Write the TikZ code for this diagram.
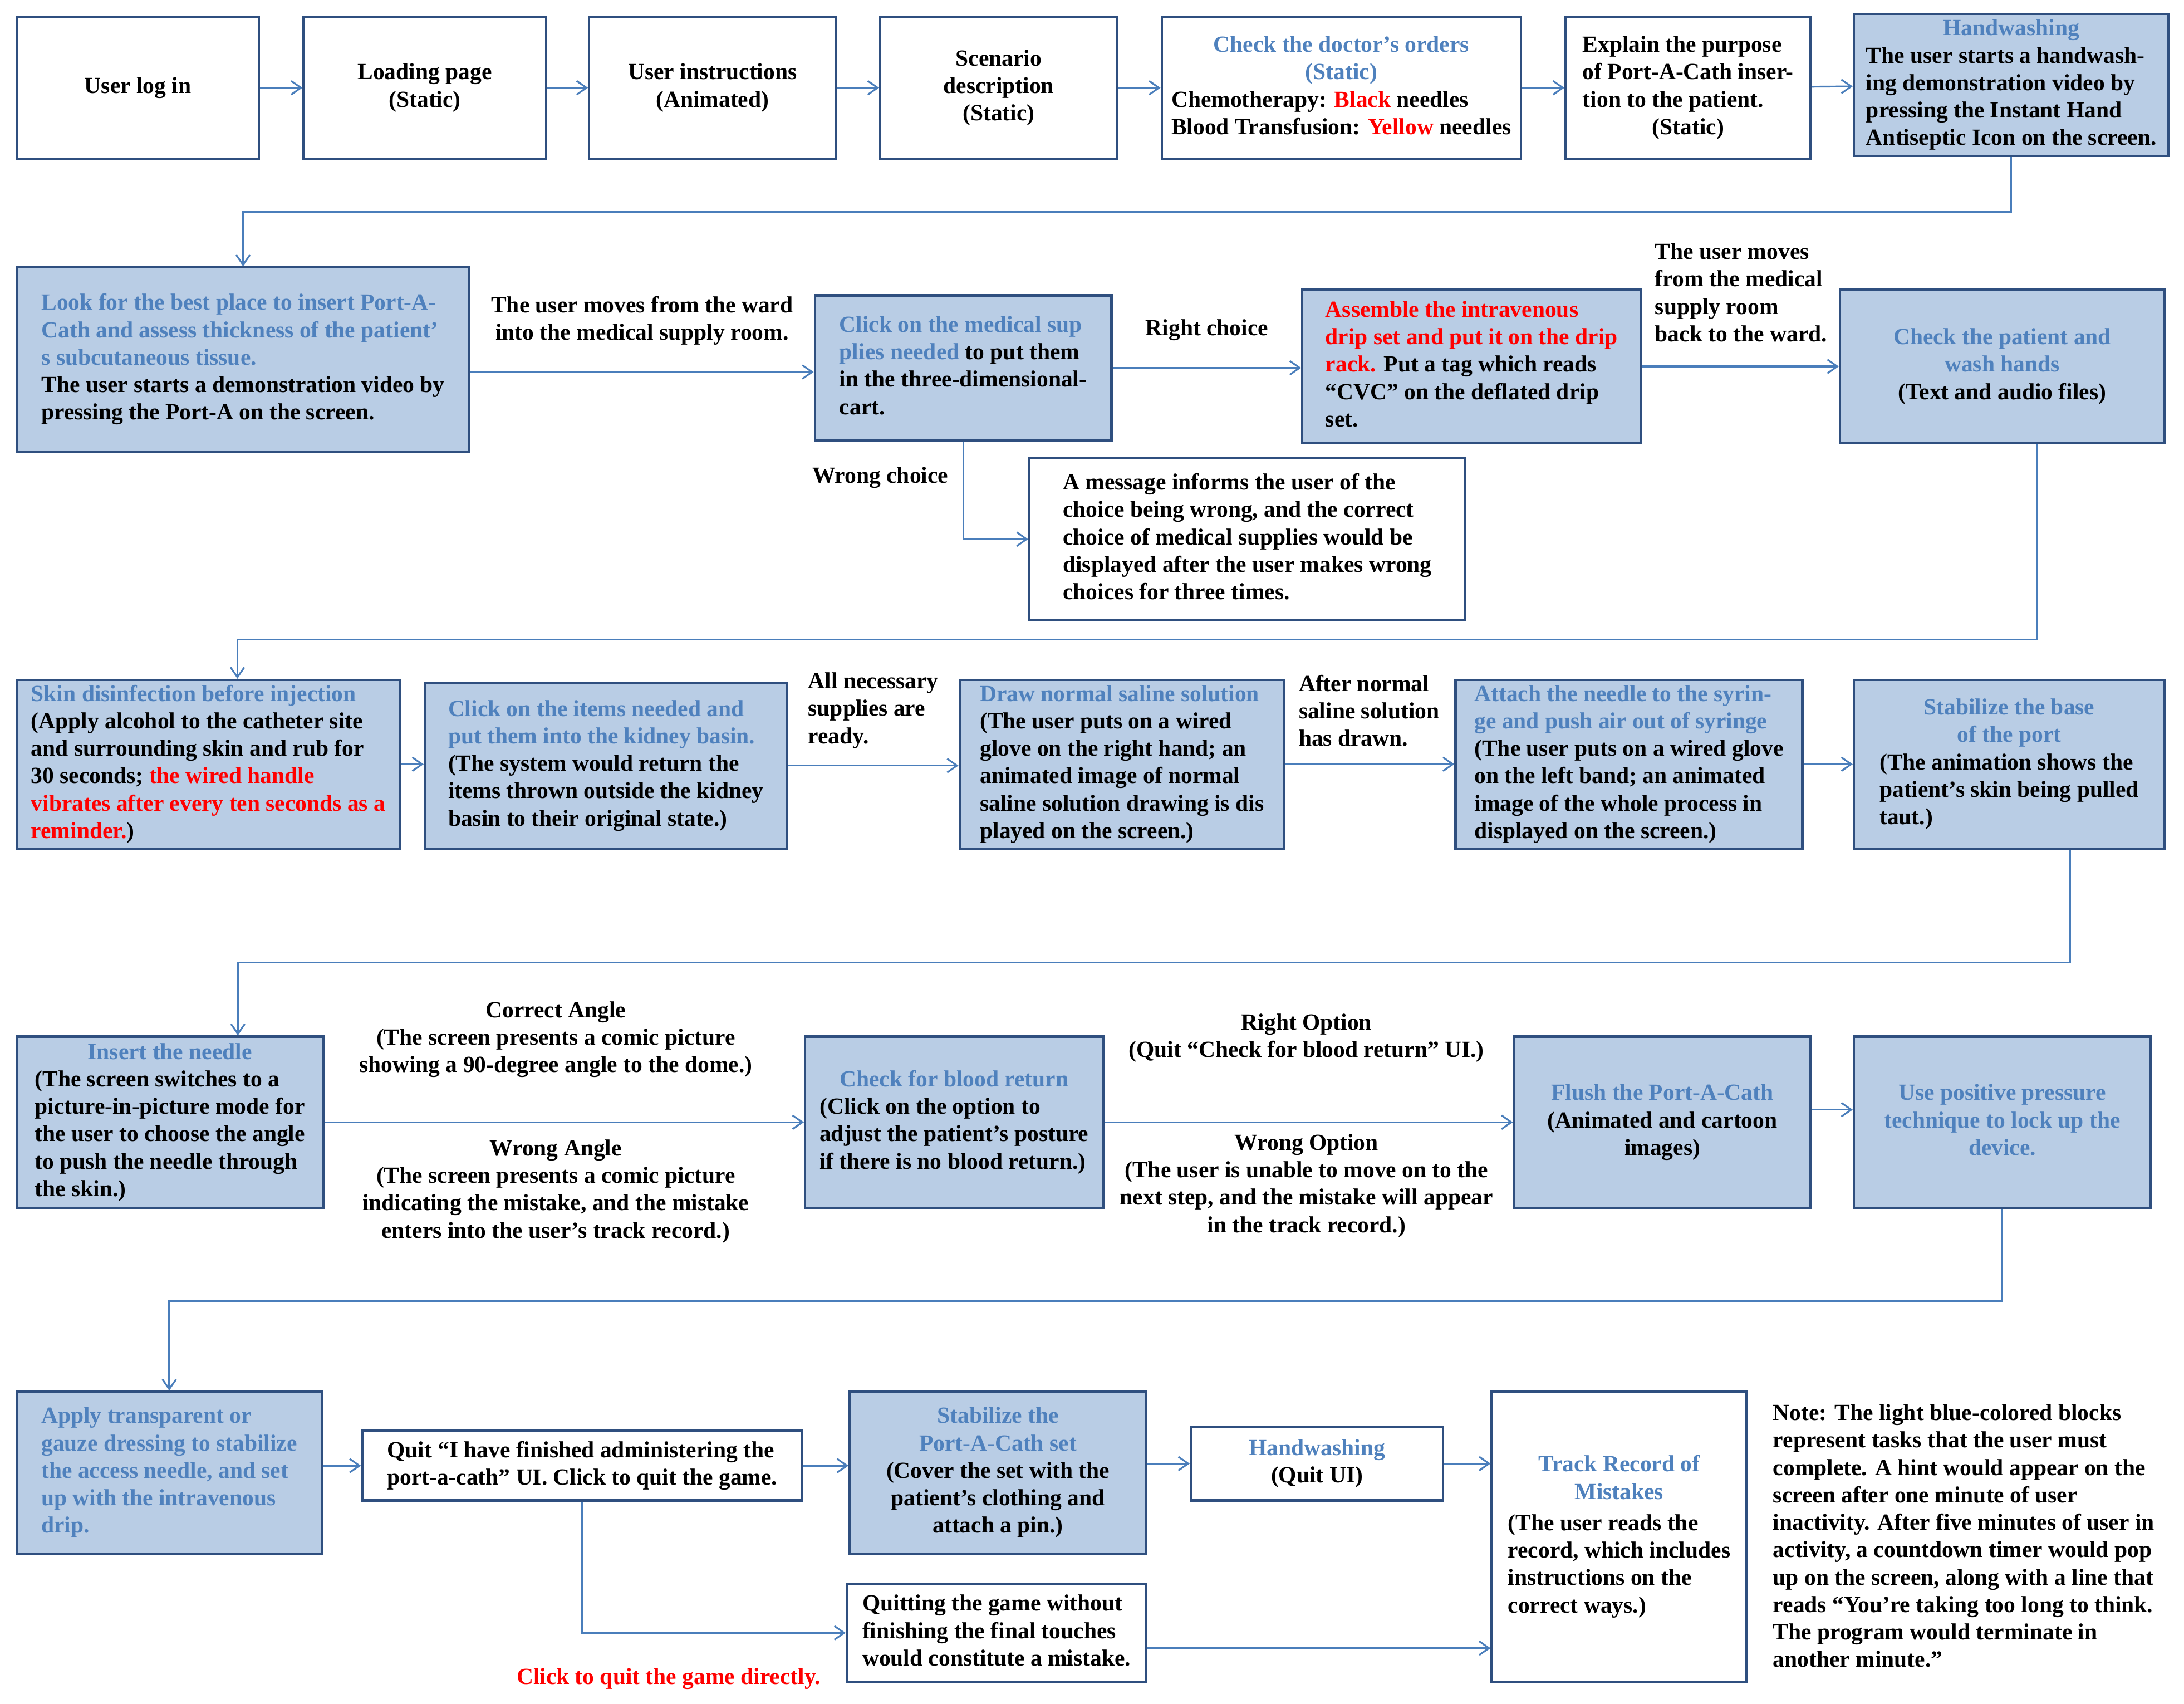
\documentclass[tikz,border=0pt]{standalone}
\usepackage{fontspec}
\setmainfont{Liberation Serif}
\usetikzlibrary{arrows.meta,fit}
\definecolor{boxfill}{HTML}{B9CDE5}
\definecolor{boxline}{HTML}{2F4F7F}
\definecolor{headblue}{HTML}{4F81BD}
\definecolor{arrowblue}{HTML}{4A7EBB}
\newcommand{\hd}[1]{\textcolor{headblue}{#1}}
\newcommand{\rd}[1]{\textcolor{red}{#1}}
\newcommand{\lb}[1]{\begin{tabular}{@{}l@{}}#1\end{tabular}}
\newcommand{\cb}[1]{\begin{tabular}{@{}c@{}}#1\end{tabular}}
\begin{document}
\begin{tikzpicture}[x=0.025cm, y=-0.025cm,
    every node/.style={font=\bfseries\fontsize{11.8}{14}\selectfont},
    wbox/.style={draw=boxline, line width=1.2pt, inner sep=0pt},
    fbox/.style={wbox, fill=boxfill},
    arrow/.style={-{Straight Barb[length=5pt,width=7pt]}, draw=arrowblue, line width=0.9pt},
    lbl/.style={align=center}
]
    \useasboundingbox (0,0) rectangle (1568,1223);

    % first row
    \node[wbox, fit={(12,12) (186,114)}, label={center:User log in}] (login) {};
    \node[wbox, fit={(218,12) (392,114)}, label={center:{\cb{Loading page\\(Static)}}}] (loading) {};
    \node[wbox, fit={(423,12) (600,114)}, label={center:{\cb{User instructions\\(Animated)}}}] (instr) {};
    \node[wbox, fit={(632,12) (802,114)}, label={center:{\cb{Scenario\\description\\(Static)}}}] (scen) {};
    \node[wbox, fit={(834,12) (1092,114)}, label={center:{\cb{\hd{Check the doctor’s orders}\\\hd{(Static)}\\\lb{Chemotherapy: \rd{Black} needles\\Blood Transfusion: \rd{Yellow} needles}}}}] (orders) {};
    \node[wbox, fit={(1124,12) (1300,114)}, label={center:{\cb{\lb{Explain the purpose\\of Port-A-Cath inser-\\tion to the patient.}\\(Static)}}}] (explain) {};
    \node[fbox, fit={(1331,10) (1557,112)}, label={center:{\cb{\hd{Handwashing}\\\lb{The user starts a handwash-\\ing demonstration video by\\pressing the Instant Hand\\Antiseptic Icon on the screen.}}}}] (hand1) {};

    % second row
    \node[fbox, fit={(12,192) (337,324)}, label={center:{\lb{\hd{Look for the best place to insert Port-A-}\\\hd{Cath and assess thickness of the patient’}\\\hd{s subcutaneous tissue.}\\The user starts a demonstration video by\\pressing the Port-A on the screen.}}}] (place) {};
    \node[fbox, fit={(585,212) (798,316)}, label={center:{\lb{\hd{Click on the medical sup}\\\hd{plies needed} to put them\\in the three-dimensional-\\cart.}}}] (supply) {};
    \node[fbox, fit={(935,208) (1178,318)}, label={center:{\lb{\rd{Assemble the intravenous}\\\rd{drip set and put it on the drip}\\\rd{rack.} Put a tag which reads\\“CVC” on the deflated drip\\set.}}}] (drip) {};
    \node[fbox, fit={(1321,208) (1554,318)}, label={center:{\cb{\hd{Check the patient and}\\\hd{wash hands}\\(Text and audio files)}}}] (wash) {};
    \node[wbox, fit={(739,329) (1052,445)}, label={center:{\lb{A message informs the user of the\\choice being wrong, and the correct\\choice of medical supplies would be\\displayed after the user makes wrong\\choices for three times.}}}] (wrongmsg) {};

    % third row
    \node[fbox, fit={(12,488) (287,609)}, label={center:{\lb{\hd{Skin disinfection before injection}\\(Apply alcohol to the catheter site\\and surrounding skin and rub for\\30 seconds; \rd{the wired handle}\\\rd{vibrates after every ten seconds as a}\\\rd{reminder.})}}}] (skin) {};
    \node[fbox, fit={(305,490) (565,609)}, label={center:{\lb{\hd{Click on the items needed and}\\\hd{put them into the kidney basin.}\\(The system would return the\\items thrown outside the kidney\\basin to their original state.)}}}] (items) {};
    \node[fbox, fit={(689,488) (922,609)}, label={center:{\lb{\hd{Draw normal saline solution}\\(The user puts on a wired\\glove on the right hand; an\\animated image of normal\\saline solution drawing is dis\\played on the screen.)}}}] (saline) {};
    \node[fbox, fit={(1045,488) (1294,609)}, label={center:{\lb{\hd{Attach the needle to the syrin-}\\\hd{ge and push air out of syringe}\\(The user puts on a wired glove\\on the left band; an animated\\image of the whole process in\\displayed on the screen.)}}}] (syringe) {};
    \node[fbox, fit={(1331,488) (1554,609)}, label={center:{\cb{\hd{Stabilize the base}\\\hd{of the port}\\\lb{(The animation shows the\\patient’s skin being pulled\\taut.)}}}}] (base) {};

    % fourth row
    \node[fbox, fit={(12,744) (232,867)}, label={center:{\cb{\hd{Insert the needle}\\\lb{(The screen switches to a\\picture-in-picture mode for\\the user to choose the angle\\to push the needle through\\the skin.)}}}}] (needle) {};
    \node[fbox, fit={(578,744) (792,867)}, label={center:{\cb{\hd{Check for blood return}\\\lb{(Click on the option to\\adjust the patient’s posture\\if there is no blood return.)}}}}] (blood) {};
    \node[fbox, fit={(1087,744) (1300,867)}, label={center:{\cb{\hd{Flush the Port-A-Cath}\\(Animated and cartoon\\images)}}}] (flush) {};
    \node[fbox, fit={(1331,744) (1544,867)}, label={center:{\cb{\hd{Use positive pressure}\\\hd{technique to lock up the}\\\hd{device.}}}}] (lock) {};

    % fifth row
    \node[fbox, fit={(12,999) (231,1115)}, label={center:{\lb{\hd{Apply transparent or}\\\hd{gauze dressing to stabilize}\\\hd{the access needle, and set}\\\hd{up with the intravenous}\\\hd{drip.}}}}] (dress) {};
    \node[wbox, fit={(260,1027) (576,1077)}, label={center:{\lb{Quit “I have finished administering the\\port-a-cath” UI. Click to quit the game.}}}] (quit) {};
    \node[fbox, fit={(610,999) (823,1115)}, label={center:{\cb{\hd{Stabilize the}\\\hd{Port-A-Cath set}\\(Cover the set with the\\patient’s clothing and\\attach a pin.)}}}] (set) {};
    \node[wbox, fit={(855,1024) (1036,1077)}, label={center:{\cb{\hd{Handwashing}\\(Quit UI)}}}] (hand2) {};
    \node[wbox, fit={(1071,999) (1254,1207)}, label={center:{\cb{\hd{Track Record of}\\\hd{Mistakes}\\[2pt]\lb{(The user reads the\\record, which includes\\instructions on the\\correct ways.)}}}}] (track) {};
    \node[wbox, fit={(608,1137) (823,1207)}, label={center:{\lb{Quitting the game without\\finishing the final touches\\would constitute a mistake.}}}] (quitgame) {};
    \node[anchor=north west, align=left] (note) at (1268,1003) {Note: The light blue-colored blocks\\represent tasks that the user must\\complete. A hint would appear on the\\screen after one minute of user\\inactivity. After five minutes of user in\\activity, a countdown timer would pop\\up on the screen, along with a line that\\reads “You’re taking too long to think.\\The program would terminate in\\another minute.”};

    % turning points
    \coordinate (t1) at (0,152);
    \coordinate (t2) at (0,459);
    \coordinate (t3) at (0,691);
    \coordinate (t4) at (0,934);
    \coordinate (t5) at (0,1172);

    % first row arrows
    \draw[arrow] (login) -- (loading);
    \draw[arrow] (loading) -- (instr);
    \draw[arrow] (instr) -- (scen);
    \draw[arrow] (scen) -- (orders);
    \draw[arrow] (orders) -- (explain);
    \draw[arrow] (explain) -- (hand1);
    \draw[arrow] (hand1.south) -- (hand1.south |- t1) -| (place.north);

    % second row arrows
    \draw[arrow] ([yshift=-6.4pt]place.east) -- ([yshift=-6.4pt]place.east -| supply.west)
        node[lbl, midway, above=10pt] {The user moves from the ward\\into the medical supply room.};
    \draw[arrow] (supply.east) -- (supply.east -| drip.west)
        node[lbl, midway, above=10pt] {Right choice};
    \draw[arrow] (drip.east) -- (drip.east -| wash.west);
    \node[align=left] (backlbl) at (1250,210) {The user moves\\from the medical\\supply room\\back to the ward.};
    \draw[arrow] (supply.south) |- (wrongmsg.west);
    \node (wronglbl) at (632,343) {Wrong choice};
    \draw[arrow] ([xshift=17.7pt]wash.south) -- ([xshift=17.7pt]wash.south |- t2) -| ([xshift=14.9pt]skin.north);

    % third row arrows
    \draw[arrow] (skin) -- (skin -| items.west);
    \draw[arrow] (items) -- (items -| saline.west);
    \node[align=left] (readylbl) at (627,510) {All necessary\\supplies are\\ready.};
    \draw[arrow] (saline) -- (saline -| syringe.west);
    \node[align=left] (drawnlbl) at (983,510) {After normal\\saline solution\\has drawn.};
    \draw[arrow] (syringe) -- (syringe -| base.west);
    \draw[arrow] ([xshift=31.2pt]base.south) -- ([xshift=31.2pt]base.south |- t3) -| ([xshift=34.7pt]needle.north);

    % fourth row arrows
    \draw[arrow] (needle) -- (needle -| blood.west);
    \node[lbl] (correctlbl) at (399,746) {Correct Angle\\(The screen presents a comic picture\\showing a 90-degree angle to the dome.)};
    \node[lbl] (wronganglbl) at (399,855) {Wrong Angle\\(The screen presents a comic picture\\indicating the mistake, and the mistake\\enters into the user’s track record.)};
    \draw[arrow] (blood) -- (blood -| flush.west);
    \node[lbl] (rightoptlbl) at (938,745) {Right Option\\(Quit “Check for blood return” UI.)};
    \node[lbl] (wrongoptlbl) at (938,851) {Wrong Option\\(The user is unable to move on to the\\next step, and the mistake will appear\\in the track record.)};
    \draw[arrow] ([yshift=6.4pt]flush.east) -- ([yshift=6.4pt]flush.east -| lock.west);
    \draw[arrow] (lock.south) -- (lock.south |- t4) -| (dress.north);

    % fifth row arrows
    \draw[arrow] (dress.east |- quit) -- (quit);
    \draw[arrow] (quit) -- (quit -| set.west);
    \draw[arrow] (set.east |- hand2) -- (hand2);
    \draw[arrow] (hand2) -- (hand2 -| track.west);
    \draw[arrow] (quit.south) |- (quitgame.west |- t5);
    \draw[arrow] ([yshift=-7.8pt]quitgame.east) -- ([yshift=-7.8pt]quitgame.east -| track.west);
    \node[text=red] (directlbl) at (480,1205) {Click to quit the game directly.};
\end{tikzpicture}
\end{document}
